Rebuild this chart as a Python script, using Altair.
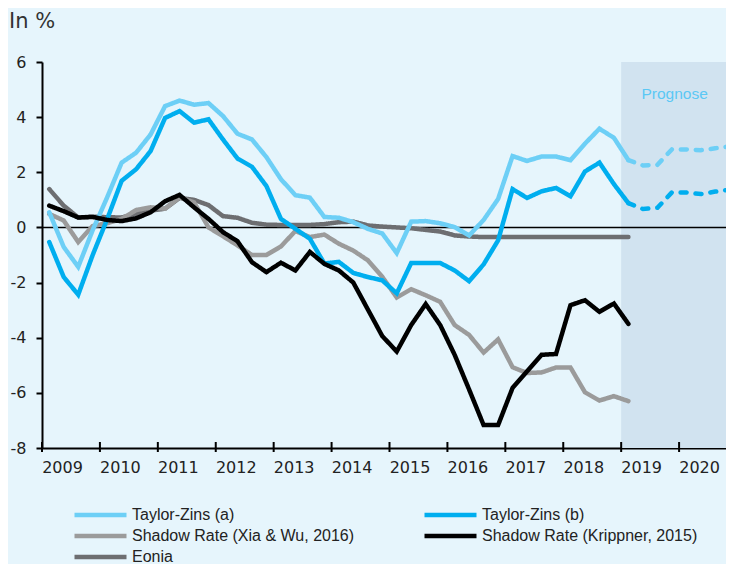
import altair as alt
import pandas as pd

# ---------------- data (quarterly, 2009Q1 .. 2019Q1) ----------------
series_names = [
    "Taylor-Zins (a)",
    "Taylor-Zins (b)",
    "Shadow Rate (Xia & Wu, 2016)",
    "Shadow Rate (Krippner, 2015)",
    "Eonia",
]
series_colors = ["#6dcff6", "#00aeef", "#9b9b9b", "#000000", "#6d6e71"]
series_widths = [4.5, 4.5, 3.5, 3.5, 4.5]
draw_order = [
    "Eonia",
    "Shadow Rate (Xia & Wu, 2016)",
    "Taylor-Zins (a)",
    "Taylor-Zins (b)",
    "Shadow Rate (Krippner, 2015)",
]

first_year = 2009
taylor_a = [0.55, -0.71, -1.43, -0.10, 1.09, 2.35, 2.71, 3.37, 4.40, 4.60, 4.45,
            4.51, 4.04, 3.40, 3.19, 2.55, 1.75, 1.17, 1.08, 0.38, 0.35, 0.19,
            -0.05, -0.22, -0.93, 0.21, 0.23, 0.15, 0.01, -0.29, 0.27, 1.03, 2.59,
            2.41, 2.57, 2.57, 2.44, 3.04, 3.58, 3.25, 2.44]
taylor_b = [-0.53, -1.80, -2.44, -1.00, 0.30, 1.69, 2.11, 2.77, 3.97, 4.22, 3.80,
            3.92, 3.19, 2.50, 2.20, 1.50, 0.31, -0.05, -0.41, -1.31, -1.25, -1.65,
            -1.80, -1.92, -2.39, -1.29, -1.29, -1.29, -1.56, -1.95, -1.34, -0.47,
            1.39, 1.07, 1.31, 1.43, 1.13, 2.03, 2.35, 1.57, 0.88]
xia_wu = [0.49, 0.25, -0.53, 0.05, 0.15, 0.31, 0.63, 0.73, 0.68, 1.09, 0.91, 0.00,
          -0.32, -0.65, -1.00, -1.00, -0.69, -0.13, -0.35, -0.26, -0.59, -0.84,
          -1.19, -1.79, -2.54, -2.24, -2.46, -2.70, -3.54, -3.90, -4.54, -4.06,
          -5.07, -5.28, -5.26, -5.08, -5.08, -5.98, -6.28, -6.12, -6.30]
krippner = [0.79, 0.59, 0.36, 0.38, 0.27, 0.23, 0.33, 0.55, 0.95, 1.18, 0.73, 0.31,
            -0.17, -0.50, -1.26, -1.62, -1.28, -1.56, -0.89, -1.32, -1.56, -2.00,
            -2.97, -3.94, -4.50, -3.54, -2.78, -3.54, -4.62, -5.88, -7.17, -7.17,
            -5.82, -5.22, -4.62, -4.59, -2.82, -2.64, -3.06, -2.76, -3.50]
eonia = [1.39, 0.79, 0.36, 0.39, 0.37, 0.36, 0.49, 0.61, 0.68, 1.07, 1.00, 0.81,
         0.41, 0.35, 0.17, 0.10, 0.09, 0.09, 0.09, 0.12, 0.19, 0.21, 0.07, 0.03,
         0.00, -0.03, -0.09, -0.15, -0.29, -0.33, -0.35, -0.35, -0.35, -0.35,
         -0.35, -0.35, -0.35, -0.35, -0.35, -0.35, -0.35]

# forecast (2019Q1 .. 2020Q4), dashed
forecast_start_quarter = 40
taylor_a_prog = [2.44, 2.25, 2.27, 2.83, 2.83, 2.80, 2.87, 2.94]
taylor_b_prog = [0.88, 0.67, 0.71, 1.27, 1.27, 1.21, 1.30, 1.37]

year_ticks = list(range(2009, 2021))
y_ticks = [-8, -6, -4, -2, 0, 2, 4, 6]
forecast_shade = {"start": 2019.0, "end": 2021.0, "top": 6, "bottom": -8}
prognose_label = {"t": 2019.35, "value": 4.83, "label": "Prognose"}
unit_label = "In %"

hist = {
    "Taylor-Zins (a)": taylor_a,
    "Taylor-Zins (b)": taylor_b,
    "Shadow Rate (Xia & Wu, 2016)": xia_wu,
    "Shadow Rate (Krippner, 2015)": krippner,
    "Eonia": eonia,
}
prog = {"Taylor-Zins (a)": taylor_a_prog, "Taylor-Zins (b)": taylor_b_prog}


def qpos(i):
    return first_year + (i + 0.5) / 4.0


rows = []
for name in draw_order:
    for i, v in enumerate(hist[name]):
        rows.append({"series": name, "t": qpos(i), "value": v, "seg": "Ist"})
    if name in prog:
        for j, v in enumerate(prog[name]):
            rows.append({"series": name, "t": qpos(forecast_start_quarter + j),
                         "value": v, "seg": "Prognose"})
df = pd.DataFrame(rows)

W, H = 684, 386
x_scale = alt.Scale(domain=[2009, 2020.81], nice=False, zero=False)
y_scale = alt.Scale(domain=[-8, 6], nice=False, zero=False)
AXIS_FONT = "DejaVu Sans"

x_axis = alt.Axis(
    values=year_ticks, format="d", labelOffset=20, ticks=False,
    domainColor="black", domainWidth=2, labelPadding=11,
    labelFontSize=16, labelFont=AXIS_FONT, labelColor="#222",
    labelFlush=False, labelOverlap=False, grid=False, title=None,
)
y_axis = alt.Axis(
    values=y_ticks, tickSize=6, tickWidth=2, tickColor="black",
    domainColor="black", domainWidth=2, labelPadding=10,
    labelFontSize=16, labelFont=AXIS_FONT, labelColor="#222",
    labelExpr="'' + datum.value", grid=False, title=None,
)

shade = alt.Chart(pd.DataFrame([forecast_shade])).mark_rect(
    color="#d1e3f0", clip=True
).encode(
    x=alt.X("start:Q", scale=x_scale, axis=x_axis),
    x2="end:Q",
    y=alt.Y("top:Q", scale=y_scale, axis=y_axis),
    y2="bottom:Q",
)

zero_line = alt.Chart(pd.DataFrame({"z": [0]})).mark_rule(
    color="black", strokeWidth=1.5
).encode(y=alt.Y("z:Q", scale=y_scale, axis=y_axis))

lines = alt.Chart(df).mark_line(strokeCap="round", clip=True).encode(
    x=alt.X("t:Q", scale=x_scale, axis=x_axis),
    y=alt.Y("value:Q", scale=y_scale, axis=y_axis),
    color=alt.Color(
        "series:N",
        scale=alt.Scale(domain=series_names, range=series_colors),
        legend=alt.Legend(
            orient="none", legendX=30, legendY=443, columns=2,
            direction="horizontal",
            symbolType="stroke", symbolSize=2704, symbolStrokeWidth=5,
            labelFont="Liberation Sans", labelFontSize=16, labelColor="#222",
            labelLimit=400, title=None, clipHeight=20, rowPadding=1,
            columnPadding=67, labelOffset=3, padding=0, symbolOffset=0,
        ),
    ),
    strokeWidth=alt.StrokeWidth(
        "series:N", scale=alt.Scale(domain=series_names, range=series_widths),
        legend=None,
    ),
    strokeDash=alt.StrokeDash(
        "seg:N", scale=alt.Scale(domain=["Ist", "Prognose"], range=[[1, 0], [6, 9]]),
        legend=None,
    ),
)

x_tick_marks = alt.Chart(pd.DataFrame({"year": year_ticks})).mark_rule(
    color="black", strokeWidth=2
).encode(
    x=alt.X("year:Q", scale=x_scale, axis=x_axis),
    y=alt.value(H - 6),
    y2=alt.value(H + 4),
)

prognose = alt.Chart(pd.DataFrame([prognose_label])).mark_text(
    align="left", baseline="middle", font="Liberation Sans", fontSize=15.5,
    color="#5bc8f5",
).encode(
    x=alt.X("t:Q", scale=x_scale, axis=x_axis),
    y=alt.Y("value:Q", scale=y_scale, axis=y_axis),
    text="label:N",
)

unit = alt.Chart(pd.DataFrame({"label": [unit_label]})).mark_text(
    align="left", baseline="alphabetic", font=AXIS_FONT, fontSize=21,
    color="#333",
).encode(x=alt.value(-33), y=alt.value(-34), text="label:N")

chart = alt.layer(shade, zero_line, lines, x_tick_marks, prognose, unit).properties(
    width=W,
    height=H,
    autosize="none",
    padding={"left": 34, "top": 54, "right": 0, "bottom": 116},
).configure(background="#e6f5fc").configure_view(strokeWidth=0)

chart.save("out.html", embed_options={"renderer": "svg", "actions": False})
